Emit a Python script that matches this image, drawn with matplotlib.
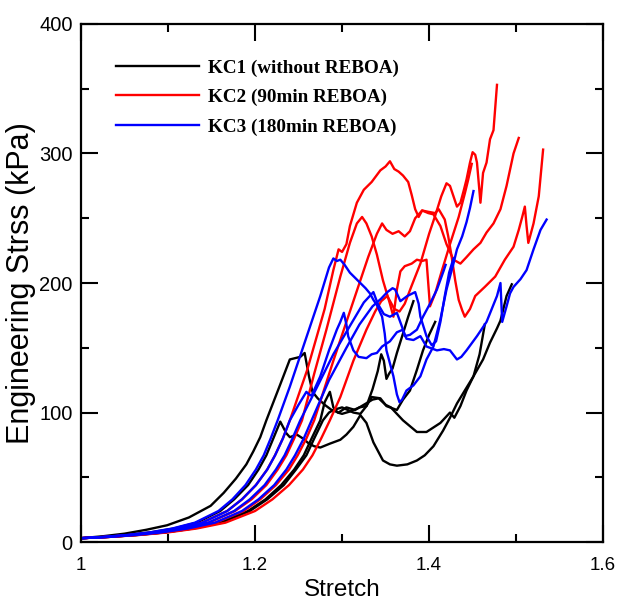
import matplotlib
matplotlib.use("Agg")
import matplotlib.pyplot as plt
from matplotlib.ticker import MultipleLocator

# ---- data (stretch, engineering stress in kPa) ----
# KC1 (without REBOA) - black
kc1_a_x = [1.0, 1.025, 1.05, 1.075, 1.099, 1.124, 1.149, 1.164, 1.178, 1.19, 1.198, 1.206,
           1.213, 1.228, 1.24, 1.246, 1.252, 1.257,
           1.262, 1.266, 1.272, 1.28, 1.288, 1.296, 1.305, 1.315, 1.325, 1.335, 1.342, 1.35,
           1.356, 1.37, 1.386, 1.397, 1.413, 1.424, 1.429, 1.436, 1.443, 1.451, 1.462, 1.47,
           1.478, 1.482, 1.489, 1.495]
kc1_a_y = [3, 4.5, 6.5, 9.5, 13, 19, 28, 38, 49, 60, 70, 81,
           94, 120, 141, 142, 143, 146,
           128, 116, 111, 106, 102, 100, 104, 102, 106, 110, 111, 106,
           104, 94, 85, 85, 92, 100, 96, 105, 117, 128, 141, 154,
           165, 171, 190, 199]

kc1_b_x = [1.0, 1.027, 1.053, 1.08, 1.107, 1.133, 1.16, 1.176, 1.192, 1.204, 1.213, 1.221,
           1.229, 1.236, 1.24, 1.248, 1.255, 1.262,
           1.268, 1.275, 1.286, 1.298, 1.305, 1.313, 1.321, 1.328, 1.336, 1.347, 1.355, 1.363,
           1.375, 1.386, 1.395, 1.405, 1.416, 1.424, 1.432, 1.441, 1.451, 1.458, 1.464]
kc1_b_y = [3, 4, 5.5, 7.5, 10.5, 15, 24, 33, 44, 56, 67, 80,
           93, 84, 81, 83, 80, 76,
           74, 73, 76, 79, 83, 89, 98, 92, 77, 63, 60, 59,
           60, 63, 67, 74, 86, 96, 107, 117, 128, 145, 168]

kc1_c_x = [1.0, 1.032, 1.064, 1.096, 1.128, 1.16, 1.192, 1.212, 1.23, 1.245, 1.256, 1.265,
           1.275, 1.28, 1.283, 1.286, 1.29, 1.295,
           1.3, 1.31, 1.32, 1.328, 1.335, 1.341, 1.345, 1.348, 1.351, 1.354, 1.358, 1.363,
           1.37, 1.376, 1.382]
kc1_c_y = [3, 4, 5.5, 7.5, 10.5, 15, 24, 33, 44, 56, 67, 80,
           94, 108, 112, 116, 104, 100,
           99, 101, 104, 105, 118, 132, 145, 140, 126, 130, 134, 146,
           161, 174, 186]

kc1_d_x = [1.0, 1.032, 1.065, 1.097, 1.129, 1.161, 1.194, 1.214, 1.233, 1.247, 1.259, 1.268,
           1.278, 1.285, 1.29, 1.3, 1.313, 1.321,
           1.328, 1.334, 1.344, 1.351, 1.363, 1.37, 1.378, 1.386, 1.393, 1.4, 1.407]
kc1_d_y = [3, 4, 5.5, 7.5, 10.5, 15, 24, 33, 44, 56, 67, 80,
           94, 100, 102, 104, 100, 99,
           105, 112, 111, 105, 102, 110, 117, 133, 148, 160, 170]

# KC2 (90min REBOA) - red
kc2_a_x = [1.0, 1.028, 1.056, 1.084, 1.112, 1.139, 1.168, 1.185, 1.201, 1.214, 1.223, 1.232,
           1.24, 1.26, 1.28, 1.29, 1.296, 1.3,
           1.305, 1.309, 1.317, 1.325, 1.334, 1.344, 1.35, 1.355, 1.36, 1.365, 1.37, 1.376,
           1.38, 1.384, 1.388, 1.392, 1.399, 1.405, 1.413, 1.42, 1.428, 1.436, 1.443, 1.451,
           1.459, 1.466, 1.474, 1.482, 1.489, 1.497, 1.503]
kc2_a_y = [3, 4, 5.5, 7.5, 10.5, 15, 24, 33, 44, 56, 67, 80,
           94, 133, 180, 210, 226, 224,
           230, 244, 262, 272, 278, 287, 290, 294, 288, 286, 283, 278,
           268, 257, 251, 256, 254, 253, 244, 230, 218, 215, 220, 226,
           231, 239, 246, 257, 275, 300, 312]

kc2_b_x = [1.0, 1.029, 1.059, 1.089, 1.118, 1.147, 1.177, 1.196, 1.213, 1.226, 1.236, 1.245,
           1.254, 1.268, 1.282, 1.298, 1.309, 1.317,
           1.323, 1.328, 1.334, 1.34, 1.347, 1.355, 1.359, 1.363, 1.367, 1.372, 1.38, 1.386,
           1.392, 1.397, 1.401, 1.407, 1.414, 1.424, 1.434, 1.441, 1.445, 1.449]
kc2_b_y = [3, 4, 5.5, 7.5, 10.5, 15, 24, 33, 44, 56, 67, 80,
           94, 130, 164, 205, 231, 246,
           251, 246, 236, 222, 202, 184, 174, 195, 209, 213, 215, 218,
           217, 218, 182, 192, 208, 230, 251, 269, 280, 292]

kc2_c_x = [1.0, 1.031, 1.062, 1.094, 1.125, 1.155, 1.187, 1.206, 1.224, 1.239, 1.249, 1.259,
           1.268, 1.29, 1.31, 1.33, 1.34, 1.346,
           1.351, 1.358, 1.365, 1.372, 1.378, 1.384, 1.392, 1.399, 1.407, 1.411, 1.418, 1.422,
           1.426, 1.43, 1.434, 1.438, 1.441, 1.447, 1.453, 1.464, 1.476, 1.487, 1.497, 1.503,
           1.507, 1.51, 1.512, 1.514, 1.52, 1.526, 1.531]
kc2_c_y = [3, 4, 5.5, 7.5, 10.5, 15, 24, 33, 44, 56, 67, 80,
           94, 140, 180, 220, 238, 246,
           241, 238, 240, 236, 240, 250, 256, 255, 254, 257, 249, 236,
           220, 202, 187, 179, 174, 180, 190, 197, 205, 218, 228, 241,
           251, 259, 244, 231, 246, 267, 303]

kc2_d_x = [1.0, 1.033, 1.067, 1.1, 1.133, 1.166, 1.2, 1.22, 1.239, 1.255, 1.266, 1.276,
           1.286, 1.298, 1.313, 1.328, 1.338, 1.345,
           1.352, 1.36, 1.366, 1.372, 1.38, 1.39, 1.4, 1.407, 1.414, 1.42, 1.424, 1.428,
           1.432, 1.436, 1.44, 1.443, 1.447, 1.45, 1.453, 1.455, 1.459, 1.462, 1.466, 1.47,
           1.474, 1.478]
kc2_d_y = [3, 4, 5.5, 7.5, 10.5, 15, 24, 33, 44, 56, 67, 80,
           94, 112, 140, 164, 178, 186,
           190, 180, 178, 184, 198, 215, 238, 252, 267, 277, 275, 267,
           259, 262, 272, 280, 293, 301, 299, 293, 262, 285, 293, 311,
           318, 353]

# KC3 (180min REBOA) - blue
kc3_a_x = [1.0, 1.026, 1.053, 1.079, 1.105, 1.131, 1.158, 1.174, 1.189, 1.201, 1.21, 1.218,
           1.226, 1.24, 1.26, 1.275, 1.285, 1.29,
           1.294, 1.298, 1.303, 1.309, 1.315, 1.321, 1.327, 1.332, 1.336, 1.34, 1.346, 1.349,
           1.351, 1.355, 1.359, 1.363, 1.366, 1.369, 1.374, 1.382, 1.39, 1.397, 1.405, 1.413,
           1.42, 1.428, 1.432, 1.438, 1.443, 1.447, 1.451]
kc3_a_y = [3, 4, 5.5, 7.5, 10.5, 15, 24, 33, 44, 56, 67, 80,
           94, 120, 160, 190, 212, 219,
           217, 218, 214, 208, 204, 200, 196, 192, 187, 183, 174, 161,
           148, 138, 128, 114, 108, 110, 117, 121, 128, 141, 151, 172,
           195, 215, 226, 236, 247, 258, 271]

kc3_b_x = [1.0, 1.028, 1.056, 1.084, 1.112, 1.139, 1.168, 1.185, 1.201, 1.214, 1.223, 1.232,
           1.24, 1.25, 1.259, 1.262, 1.265, 1.275,
           1.285, 1.294, 1.298, 1.302, 1.305, 1.307, 1.313, 1.319, 1.328, 1.334, 1.34, 1.346,
           1.355, 1.363, 1.37, 1.374, 1.382, 1.39, 1.397, 1.409, 1.417, 1.424, 1.432, 1.437,
           1.443, 1.455, 1.466, 1.472, 1.478, 1.482, 1.484, 1.489, 1.493, 1.497, 1.505, 1.512,
           1.52, 1.528, 1.535]
kc3_b_y = [3, 4, 5.5, 7.5, 10.5, 15, 24, 33, 44, 56, 67, 80,
           94, 106, 116, 114, 113, 128,
           148, 164, 170, 177, 168, 159, 148, 143, 142, 145, 146, 151,
           155, 162, 164, 157, 156, 159, 151, 148, 149, 148, 141, 143,
           148, 159, 170, 180, 190, 200, 170, 182, 192, 197, 203, 210,
           226, 241, 249]

kc3_c_x = [1.0, 1.029, 1.059, 1.088, 1.117, 1.146, 1.176, 1.194, 1.211, 1.224, 1.234, 1.243,
           1.252, 1.27, 1.29, 1.31, 1.325, 1.336,
           1.341, 1.348, 1.355, 1.363, 1.369, 1.372, 1.378, 1.386, 1.393, 1.401, 1.409, 1.417,
           1.419]
kc3_c_y = [3, 4, 5.5, 7.5, 10.5, 15, 24, 33, 44, 56, 67, 80,
           94, 118, 145, 168, 185, 193,
           184, 176, 174, 177, 166, 159, 160, 164, 174, 184, 195, 210,
           214]

kc3_d_x = [1.0, 1.031, 1.062, 1.093, 1.123, 1.154, 1.185, 1.204, 1.222, 1.236, 1.246, 1.256,
           1.265, 1.285, 1.305, 1.32, 1.335, 1.345,
           1.352, 1.358, 1.361, 1.367, 1.375, 1.384, 1.388, 1.39, 1.397, 1.403, 1.408, 1.413,
           1.418, 1.423, 1.428]
kc3_d_y = [3, 4, 5.5, 7.5, 10.5, 15, 24, 33, 44, 56, 67, 80,
           94, 125, 150, 168, 182, 188,
           193, 196, 195, 186, 190, 193, 184, 174, 159, 152, 155, 170,
           190, 208, 219]

kc1 = [(kc1_a_x, kc1_a_y), (kc1_b_x, kc1_b_y), (kc1_c_x, kc1_c_y), (kc1_d_x, kc1_d_y)]
kc2 = [(kc2_a_x, kc2_a_y), (kc2_b_x, kc2_b_y), (kc2_c_x, kc2_c_y), (kc2_d_x, kc2_d_y)]
kc3 = [(kc3_a_x, kc3_a_y), (kc3_b_x, kc3_b_y), (kc3_c_x, kc3_c_y), (kc3_d_x, kc3_d_y)]

groups = [
    (kc1, "black", "KC1 (without REBOA)"),
    (kc2, "#ff0000", "KC2 (90min REBOA)"),
    (kc3, "#0000ff", "KC3 (180min REBOA)"),
]

plt.rcParams["font.family"] = ["Liberation Sans", "DejaVu Sans"]

fig = plt.figure(figsize=(6.18, 5.99), dpi=100)
ax = fig.add_axes([0.131, 0.095, 0.845, 0.865])

for curves, color, label in groups:
    for i, (xs, ys) in enumerate(curves):
        ax.plot(xs, ys, color=color, lw=1.7, label=label if i == 0 else None)

ax.set_xlim(1.0, 1.6)
ax.set_ylim(0, 400)
ax.xaxis.set_major_locator(MultipleLocator(0.2))
ax.xaxis.set_minor_locator(MultipleLocator(0.1))
ax.yaxis.set_major_locator(MultipleLocator(100))
ax.yaxis.set_minor_locator(MultipleLocator(50))
ax.set_xticks([1.0, 1.2, 1.4, 1.6])
ax.set_xticklabels(["1", "1.2", "1.4", "1.6"])
ax.tick_params(which="both", direction="in", top=True, right=True, width=1.5)
ax.tick_params(which="major", length=12)
ax.tick_params(which="minor", length=6)
ax.tick_params(axis="x", labelsize=13.5, pad=11)
ax.tick_params(axis="y", labelsize=14.5, pad=6)
for sp in ax.spines.values():
    sp.set_linewidth(1.6)

ax.set_xlabel("Stretch", fontsize=17.5, labelpad=3)
ax.set_ylabel("Engineering Strss (kPa)", fontsize=22, labelpad=2)

leg = ax.legend(loc="upper left", bbox_to_anchor=(0.035, 0.965), frameon=False,
                handlelength=4.3, handletextpad=0.5, labelspacing=0.62,
                prop={"family": "Liberation Serif", "weight": "bold", "size": 13.8})

fig.savefig("out.png", dpi=100)
